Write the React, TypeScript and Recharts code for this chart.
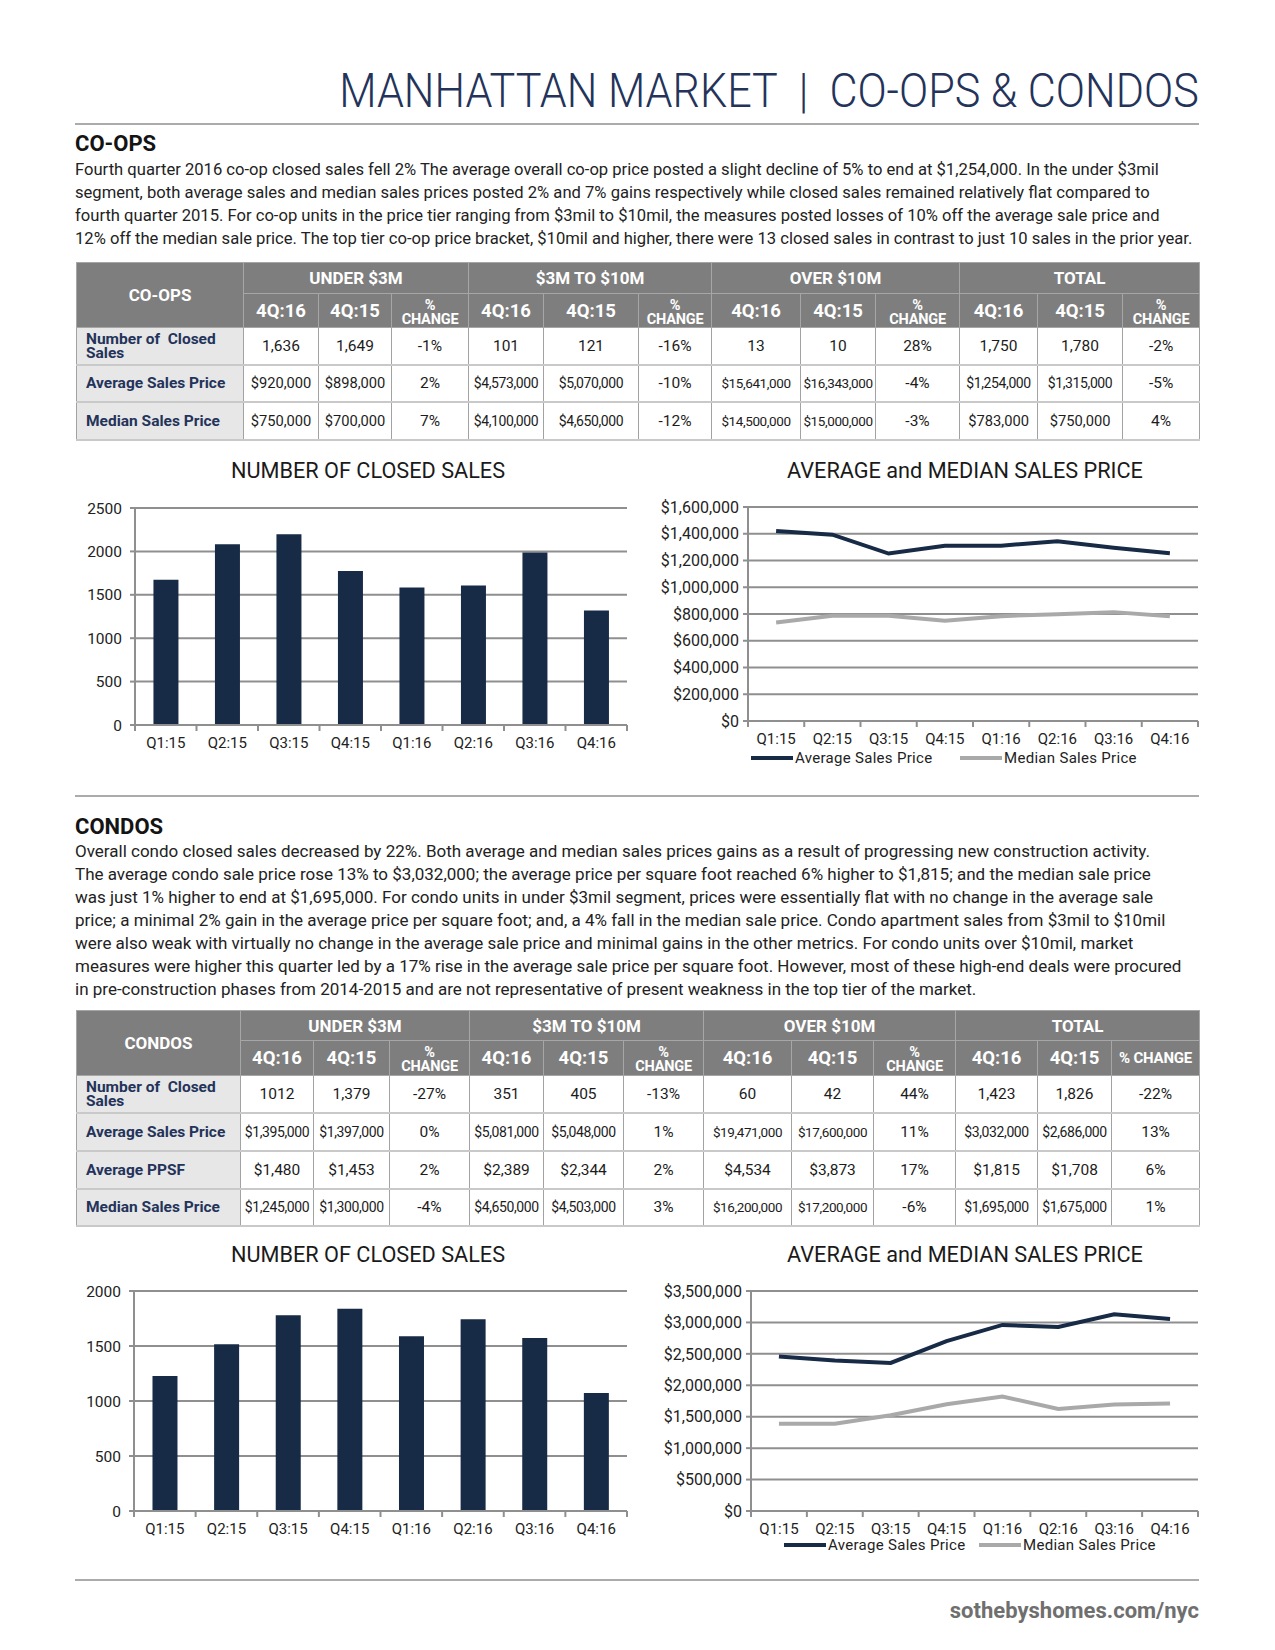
import React from 'react';
import { BarChart, Bar, LineChart, Line, XAxis, YAxis, CartesianGrid, Legend } from 'recharts';

// ---------- DATA ----------
const quarters = ['Q1:15', 'Q2:15', 'Q3:15', 'Q4:15', 'Q1:16', 'Q2:16', 'Q3:16', 'Q4:16'];

const coopClosedSales = [1674, 2081, 2199, 1773, 1583, 1606, 1986, 1320];
const coopAvgPrice = [1421000, 1393000, 1252000, 1311000, 1311000, 1344000, 1296000, 1254000];
const coopMedianPrice = [737000, 786000, 786000, 750000, 784000, 799000, 814000, 783000];

const condoClosedSales = [1227, 1515, 1780, 1838, 1588, 1744, 1573, 1072];
const condoAvgPrice = [2458000, 2394000, 2356000, 2704000, 2960000, 2928000, 3131000, 3055000];
const condoMedianPrice = [1389000, 1389000, 1523000, 1699000, 1822000, 1624000, 1694000, 1712000];

const coopCountTicks = [0, 500, 1000, 1500, 2000, 2500];
const coopPriceTicks = [0, 200000, 400000, 600000, 800000, 1000000, 1200000, 1400000, 1600000];
const condoCountTicks = [0, 500, 1000, 1500, 2000];
const condoPriceTicks = [0, 500000, 1000000, 1500000, 2000000, 2500000, 3000000, 3500000];

const tableGroups = ['UNDER $3M', '$3M TO $10M', 'OVER $10M', 'TOTAL'];
const periodHeaders = ['4Q:16', '4Q:15', '%\nCHANGE'];
const periodHeadersCondoTotal = ['4Q:16', '4Q:15', '% CHANGE'];

const coopRowLabels = ['Number of  Closed\nSales', 'Average Sales Price', 'Median Sales Price'];
const coopClosedRow = ['1,636', '1,649', '-1%', '101', '121', '-16%', '13', '10', '28%', '1,750', '1,780', '-2%'];
const coopAvgRow = ['$920,000', '$898,000', '2%', '$4,573,000', '$5,070,000', '-10%', '$15,641,000', '$16,343,000', '-4%', '$1,254,000', '$1,315,000', '-5%'];
const coopMedianRow = ['$750,000', '$700,000', '7%', '$4,100,000', '$4,650,000', '-12%', '$14,500,000', '$15,000,000', '-3%', '$783,000', '$750,000', '4%'];

const condoRowLabels = ['Number of  Closed\nSales', 'Average Sales Price', 'Average PPSF', 'Median Sales Price'];
const condoClosedRow = ['1012', '1,379', '-27%', '351', '405', '-13%', '60', '42', '44%', '1,423', '1,826', '-22%'];
const condoAvgRow = ['$1,395,000', '$1,397,000', '0%', '$5,081,000', '$5,048,000', '1%', '$19,471,000', '$17,600,000', '11%', '$3,032,000', '$2,686,000', '13%'];
const condoPpsfRow = ['$1,480', '$1,453', '2%', '$2,389', '$2,344', '2%', '$4,534', '$3,873', '17%', '$1,815', '$1,708', '6%'];
const condoMedianRow = ['$1,245,000', '$1,300,000', '-4%', '$4,650,000', '$4,503,000', '3%', '$16,200,000', '$17,200,000', '-6%', '$1,695,000', '$1,675,000', '1%'];

const coopParagraph = [
  'Fourth quarter 2016 co-op closed sales fell 2% The average overall co-op price posted a slight decline of 5% to end at $1,254,000. In the under $3mil',
  'segment, both average sales and median sales prices posted 2% and 7% gains respectively while closed sales remained relatively flat compared to',
  'fourth quarter 2015. For co-op units in the price tier ranging from $3mil to $10mil, the measures posted losses of 10% off the average sale price and',
  '12% off the median sale price. The top tier co-op price bracket, $10mil and higher, there were 13 closed sales in contrast to just 10 sales in the prior year.',
];
const condoParagraph = [
  'Overall condo closed sales decreased by 22%. Both average and median sales prices gains as a result of progressing new construction activity.',
  'The average condo sale price rose 13% to $3,032,000; the average price per square foot reached 6% higher to $1,815; and the median sale price',
  'was just 1% higher to end at $1,695,000. For condo units in under $3mil segment, prices were essentially flat with no change in the average sale',
  'price; a minimal 2% gain in the average price per square foot; and, a 4% fall in the median sale price. Condo apartment sales from $3mil to $10mil',
  'were also weak with virtually no change in the average sale price and minimal gains in the other metrics. For condo units over $10mil, market',
  'measures were higher this quarter led by a 17% rise in the average sale price per square foot. However, most of these high-end deals were procured',
  'in pre-construction phases from 2014-2015 and are not representative of present weakness in the top tier of the market.',
];

// ---------- STYLE ----------
const FONT = 'Roboto, "Noto Sans", sans-serif';
const NAVY = '#172a46';
const LABEL_NAVY = '#24335a';
const GRID = '#8f8f8f';
const MEDIAN_GRAY = '#a9a9a9';

const coopBarData = quarters.map((q, i) => ({ q, sales: coopClosedSales[i] }));
const coopLineData = quarters.map((q, i) => ({ q, avg: coopAvgPrice[i], median: coopMedianPrice[i] }));
const condoBarData = quarters.map((q, i) => ({ q, sales: condoClosedSales[i] }));
const condoLineData = quarters.map((q, i) => ({ q, avg: condoAvgPrice[i], median: condoMedianPrice[i] }));

const money = (v: number) => '$' + v.toLocaleString('en-US');
const tickStyle = { fontSize: 15, fill: '#222', fontFamily: FONT };
const priceTickStyle = { fontSize: 16, fill: '#222', fontFamily: FONT };

const abs = (left: number, top: number, extra: React.CSSProperties = {}): React.CSSProperties => ({
  position: 'absolute', left, top, ...extra,
});

function cellFont(s: string) {
  if (s.length >= 11) return 13.5;
  if (s.length >= 10) return 14;
  if (s.length >= 8) return 14.7;
  return 15.5;
}

// X tick: label at the category centre, plus a small mark at the category boundaries
function BoundaryTick(props: any) {
  const { x, y, payload, index, visibleTicksCount, half, lift } = props;
  const axisY = y - lift;
  return (
    <g>
      <line x1={x - half} y1={axisY} x2={x - half} y2={axisY + 6} stroke={GRID} strokeWidth={2} />
      {index === visibleTicksCount - 1 && (
        <line x1={x + half} y1={axisY} x2={x + half} y2={axisY + 6} stroke={GRID} strokeWidth={2} />
      )}
      <text x={x} y={y} dy="0.71em" textAnchor="middle" fontSize={15} fill="#222" fontFamily={FONT}>{payload.value}</text>
    </g>
  );
}

type TableProps = {
  left: number; top: number; title: string; widths: number[]; heights: number[];
  labels: string[]; rows: string[][]; lastHeaders: string[];
};

function DataTable({ left, top, title, widths, heights, labels, rows, lastHeaders }: TableProps) {
  const headBg = '#7e7e7e';
  const hb = '1px solid #a6a6a6';
  const db = '1px solid #a2a2a2';
  return (
    <table style={{ position: 'absolute', left, top, borderCollapse: 'collapse', tableLayout: 'fixed', width: widths.reduce((a, b) => a + b, 0), fontFamily: FONT }}>
      <colgroup>{widths.map((w, i) => <col key={i} style={{ width: w }} />)}</colgroup>
      <tbody>
        <tr style={{ height: heights[0] }}>
          <td rowSpan={2} style={{ background: headBg, color: '#fff', fontWeight: 700, fontSize: 17, textAlign: 'center', border: hb, padding: 0 }}>{title}</td>
          {tableGroups.map((g) => (
            <td key={g} colSpan={3} style={{ background: headBg, color: '#fff', fontWeight: 700, fontSize: 17, textAlign: 'center', border: hb, padding: 0 }}>{g}</td>
          ))}
        </tr>
        <tr style={{ height: heights[1] }}>
          {tableGroups.map((g, gi) => (gi === 3 ? lastHeaders : periodHeaders).map((h, hi) => (
            <td key={g + hi} style={{ background: headBg, color: '#fff', fontWeight: 700, fontSize: h.includes('CHANGE') ? (h.includes('\n') ? 14.5 : 15) : 18.5, lineHeight: h.includes('\n') ? '14px' : 'normal', textAlign: 'center', whiteSpace: 'pre', border: hb, padding: h.includes('\n') ? '4px 0 0 0' : 0, verticalAlign: 'middle', letterSpacing: h.includes('CHANGE') ? -0.2 : 0 }}>{h}</td>
          )))}
        </tr>
        {rows.map((r, ri) => (
          <tr key={ri} style={{ height: heights[2 + ri] }}>
            <td style={{ background: '#e7e7e7', color: LABEL_NAVY, fontWeight: 700, fontSize: 15.5, lineHeight: labels[ri].includes('\n') ? '14px' : 'normal', whiteSpace: 'pre', border: db, borderBottom: '2px solid #c9c9c9', padding: '0 0 0 9px' }}>{labels[ri]}</td>
            {r.map((v, vi) => (
              <td key={vi} style={{ background: '#fff', color: '#1c1c1c', fontSize: cellFont(v), textAlign: 'center', border: db, borderBottom: '2px solid #c9c9c9', padding: 0, whiteSpace: 'nowrap', letterSpacing: v.length >= 10 ? -0.4 : 0 }}>{v}</td>
            ))}
          </tr>
        ))}
      </tbody>
    </table>
  );
}

function LegendContent({ padLeft, gapTo }: { padLeft: number; gapTo: number }) {
  const item = (color: string, label: string) => (
    <div style={{ display: 'flex', alignItems: 'center' }}>
      <svg width={42} height={8}><line x1={0} y1={4} x2={42} y2={4} stroke={color} strokeWidth={4} /></svg>
      <span style={{ fontSize: 15, color: '#222', fontFamily: FONT, marginLeft: 2, letterSpacing: 0.3 }}>{label}</span>
    </div>
  );
  return (
    <div style={{ height: 18, display: 'flex', alignItems: 'center', paddingLeft: padLeft }}>
      <div style={{ width: gapTo }}>{item(NAVY, 'Average Sales Price')}</div>
      {item(MEDIAN_GRAY, 'Median Sales Price')}
    </div>
  );
}

function ClosedSalesChart({ data, ticks, width, height, top, yWidth, xHeight }: any) {
  const half = (width - 13 - yWidth) / data.length / 2;
  return (
    <BarChart width={width} height={height} data={data} margin={{ top, right: 13, bottom: 0, left: 0 }} barCategoryGap="30%">
      <CartesianGrid vertical={false} stroke={GRID} strokeWidth={2} />
      <XAxis dataKey="q" height={xHeight} tick={(p: any) => <BoundaryTick {...p} half={half} lift={12} />} tickLine={false} tickSize={4} tickMargin={8} axisLine={{ stroke: GRID, strokeWidth: 2 }} />
      <YAxis width={yWidth} domain={[0, ticks[ticks.length - 1]]} ticks={ticks} interval={0} tick={{ ...tickStyle, fontSize: 15.5 }} tickLine={{ stroke: GRID, strokeWidth: 2 }} tickSize={5} tickMargin={8} axisLine={{ stroke: GRID, strokeWidth: 2 }} />
      <Bar dataKey="sales" fill={NAVY} isAnimationActive={false} />
    </BarChart>
  );
}

function PriceChart({ data, ticks, width, height, top, bottom, yWidth, xHeight, padLeft, gapTo }: any) {
  const half = (width - 12 - yWidth) / data.length / 2;
  return (
    <LineChart width={width} height={height} data={data} margin={{ top, right: 12, bottom, left: 0 }}>
      <CartesianGrid vertical={false} stroke={GRID} strokeWidth={2} />
      <XAxis dataKey="q" scale="band" height={xHeight} tick={(p: any) => <BoundaryTick {...p} half={half} lift={12} />} tickLine={false} tickSize={3} tickMargin={9} axisLine={{ stroke: GRID, strokeWidth: 2 }} />
      <YAxis width={yWidth} domain={[0, ticks[ticks.length - 1]]} ticks={ticks} interval={0} tickFormatter={money} tick={priceTickStyle} tickLine={{ stroke: GRID, strokeWidth: 2 }} tickSize={5} tickMargin={4} axisLine={{ stroke: GRID, strokeWidth: 2 }} />
      <Legend verticalAlign="bottom" align="left" content={() => <LegendContent padLeft={padLeft} gapTo={gapTo} />} />
      <Line dataKey="avg" name="Average Sales Price" stroke={NAVY} strokeWidth={4} dot={false} isAnimationActive={false} />
      <Line dataKey="median" name="Median Sales Price" stroke={MEDIAN_GRAY} strokeWidth={4} dot={false} isAnimationActive={false} />
    </LineChart>
  );
}

const ruleStyle = (top: number): React.CSSProperties => abs(75, top, { width: 1124, height: 2, background: '#ababab' });
const chartTitle = (left: number, top: number, width: number): React.CSSProperties =>
  abs(left, top, { width, textAlign: 'center', fontSize: 21.7, lineHeight: '24px', color: '#1a1a1a' });

export default function App() {
  return (
    <div style={{ position: 'absolute', left: 0, top: 0, width: 1275, height: 1650, background: '#fff', fontFamily: FONT, overflow: 'hidden' }}>
      {/* Title */}
      <div style={{ position: 'absolute', right: 76, top: 61, lineHeight: '60px', fontSize: 49, fontWeight: 300, color: '#24335a', whiteSpace: 'nowrap', transform: 'scaleX(0.88)', transformOrigin: 'right center' }}>
        MANHATTAN MARKET&nbsp;&nbsp;|&nbsp;&nbsp;CO-OPS &amp; CONDOS
      </div>
      <div style={ruleStyle(123)} />

      {/* CO-OPS */}
      <div style={abs(75, 132, { fontSize: 22, fontWeight: 700, lineHeight: '24px', color: '#141414' })}>CO-OPS</div>
      <div style={abs(75, 158, { fontSize: 16.6, lineHeight: '23.1px', color: '#222' })}>
        {coopParagraph.map((l, i) => <div key={i} style={{ whiteSpace: 'nowrap' }}>{l}</div>)}
      </div>

      <DataTable left={76} top={262} title="CO-OPS"
        widths={[167, 75, 73, 77, 75, 95, 73, 89, 75, 84, 78, 85, 77]}
        heights={[31, 34, 37, 37, 38]}
        labels={coopRowLabels}
        rows={[coopClosedRow, coopAvgRow, coopMedianRow]}
        lastHeaders={periodHeaders} />

      <div style={chartTitle(168, 459, 400)}>NUMBER OF CLOSED SALES</div>
      <div style={chartTitle(715, 459, 500)}>AVERAGE and MEDIAN SALES PRICE</div>

      <div style={abs(60, 490)}>
        <ClosedSalesChart data={coopBarData} ticks={coopCountTicks} width={580} height={270} top={18} yWidth={75} xHeight={35} />
      </div>
      <div style={abs(640, 490)}>
        <PriceChart data={coopLineData} ticks={coopPriceTicks} width={570} height={290} top={17} bottom={13} yWidth={108} xHeight={28} padLeft={111} gapTo={209} />
      </div>

      <div style={ruleStyle(795)} />

      {/* CONDOS */}
      <div style={abs(75, 815, { fontSize: 22, fontWeight: 700, lineHeight: '24px', color: '#141414' })}>CONDOS</div>
      <div style={abs(75, 840, { fontSize: 17, lineHeight: '23px', color: '#222' })}>
        {condoParagraph.map((l, i) => <div key={i} style={{ whiteSpace: 'nowrap' }}>{l}</div>)}
      </div>

      <DataTable left={76} top={1010} title="CONDOS"
        widths={[164, 73, 76, 80, 74, 80, 80, 88, 82, 82, 82, 74, 88]}
        heights={[30, 35, 37, 38, 38, 37]}
        labels={condoRowLabels}
        rows={[condoClosedRow, condoAvgRow, condoPpsfRow, condoMedianRow]}
        lastHeaders={periodHeadersCondoTotal} />

      <div style={chartTitle(168, 1243, 400)}>NUMBER OF CLOSED SALES</div>
      <div style={chartTitle(715, 1243, 500)}>AVERAGE and MEDIAN SALES PRICE</div>

      <div style={abs(60, 1272)}>
        <ClosedSalesChart data={condoBarData} ticks={condoCountTicks} width={580} height={275} top={19} yWidth={74} xHeight={36} />
      </div>
      <div style={abs(640, 1272)}>
        <PriceChart data={condoLineData} ticks={condoPriceTicks} width={570} height={295} top={19} bottom={13} yWidth={111} xHeight={25} padLeft={144} gapTo={195} />
      </div>

      <div style={ruleStyle(1579)} />
      <div style={{ position: 'absolute', right: 76, top: 1598, fontSize: 22, fontWeight: 700, lineHeight: '26px', color: '#6f6f6f' }}>sothebyshomes.com/nyc</div>
    </div>
  );
}
